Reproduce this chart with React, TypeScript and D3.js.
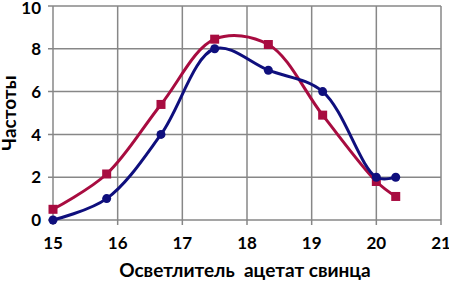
import * as d3 from "d3";
import { useEffect, useRef } from "react";

const xValues = [15, 15.83, 16.67, 17.5, 18.33, 19.17, 20, 20.3];
const blueSeries = [0, 1, 4, 8, 7, 6, 2, 2];
const redSeries = [0.5, 2.15, 5.4, 8.45, 8.2, 4.9, 1.8, 1.1];
const xTicks = [15, 16, 17, 18, 19, 20, 21];
const yTicks = [0, 2, 4, 6, 8, 10];

const App = () => {
  const svgRef = useRef<SVGSVGElement | null>(null);

  useEffect(() => {
    const width = 449;
    const height = 282;
    const margin = { top: 6, right: 8, bottom: 62, left: 53 };
    const font = "Lato, 'Open Sans', sans-serif";

    const svg = d3.select(svgRef.current);
    svg.selectAll("*").remove();
    svg.attr("width", width).attr("height", height);

    const x = d3.scaleLinear().domain([15, 21]).range([margin.left, width - margin.right]);
    const y = d3.scaleLinear().domain([0, 10]).range([height - margin.bottom, margin.top]);

    const grid = svg.append("g");
    grid
      .selectAll("line.h")
      .data(yTicks)
      .enter()
      .append("line")
      .attr("x1", x(15) - 5)
      .attr("x2", x(21))
      .attr("y1", (d) => y(d))
      .attr("y2", (d) => y(d))
      .attr("stroke", "#878787")
      .attr("stroke-width", 1.5);
    grid
      .selectAll("line.v")
      .data(xTicks)
      .enter()
      .append("line")
      .attr("x1", (d) => x(d))
      .attr("x2", (d) => x(d))
      .attr("y1", y(10))
      .attr("y2", y(0) + 5)
      .attr("stroke", "#878787")
      .attr("stroke-width", 1.5);

    svg
      .append("g")
      .selectAll("text")
      .data(yTicks)
      .enter()
      .append("text")
      .attr("x", x(15) - 12)
      .attr("y", (d) => Math.max(y(d), 8))
      .attr("dy", "0.36em")
      .attr("text-anchor", "end")
      .attr("font-family", font)
      .attr("font-weight", "bold")
      .attr("font-size", 17)
      .text((d) => d);

    svg
      .append("g")
      .selectAll("text")
      .data(xTicks)
      .enter()
      .append("text")
      .attr("x", (d) => x(d))
      .attr("y", y(0) + 29)
      .attr("text-anchor", "middle")
      .attr("font-family", font)
      .attr("font-weight", "bold")
      .attr("font-size", 17)
      .text((d) => d);

    svg
      .append("text")
      .attr("x", 245)
      .attr("y", 277)
      .attr("text-anchor", "middle")
      .attr("font-family", font)
      .attr("font-weight", "bold")
      .attr("font-size", 19)
      .attr("xml:space", "preserve")
      .text("Осветлитель  ацетат свинца");

    svg
      .append("text")
      .attr("transform", `translate(16, ${y(5)}) rotate(-90)`)
      .attr("text-anchor", "middle")
      .attr("font-family", font)
      .attr("font-weight", "bold")
      .attr("font-size", 19)
      .text("Частоты");

    const series = [
      { values: redSeries, color: "#A80C40", marker: "square" },
      { values: blueSeries, color: "#0F0F7D", marker: "circle" },
    ];

    const line = d3
      .line<[number, number]>()
      .x((d) => x(d[0]))
      .y((d) => y(d[1]))
      .curve(d3.curveCatmullRom.alpha(0.5));

    series.forEach((s) => {
      const pts = xValues.map((v, i) => [v, s.values[i]] as [number, number]);
      svg
        .append("path")
        .datum(pts)
        .attr("fill", "none")
        .attr("stroke", s.color)
        .attr("stroke-width", 3)
        .attr("d", line);
      if (s.marker === "square") {
        svg
          .append("g")
          .selectAll("rect")
          .data(pts)
          .enter()
          .append("rect")
          .attr("x", (d) => x(d[0]) - 4.5)
          .attr("y", (d) => y(d[1]) - 4.5)
          .attr("width", 9)
          .attr("height", 9)
          .attr("fill", s.color);
      } else {
        svg
          .append("g")
          .selectAll("circle")
          .data(pts)
          .enter()
          .append("circle")
          .attr("cx", (d) => x(d[0]))
          .attr("cy", (d) => y(d[1]))
          .attr("r", 4.5)
          .attr("fill", s.color);
      }
    });
  }, []);

  return <svg ref={svgRef} style={{ position: "absolute", left: 0, top: 0 }}></svg>;
};

export default App;
